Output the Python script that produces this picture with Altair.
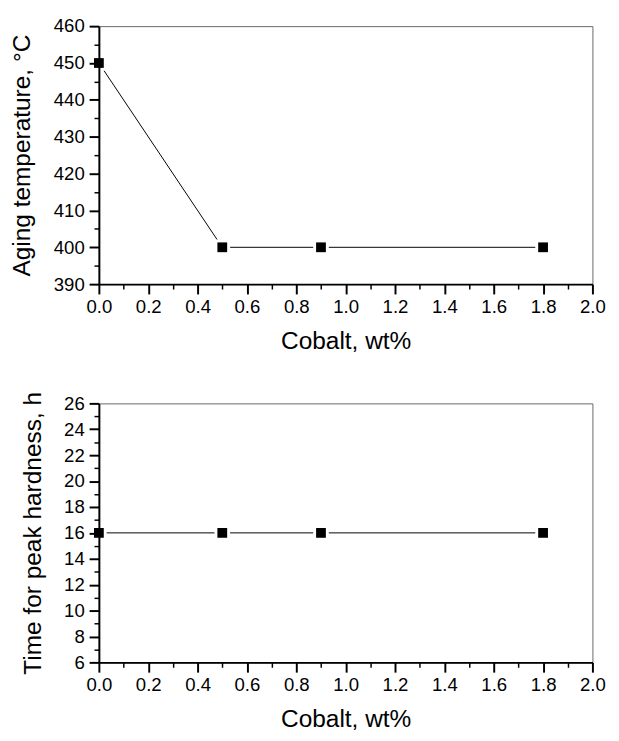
import altair as alt
import pandas as pd

cobalt = [0.0, 0.5, 0.9, 1.8]
aging_temp = [450, 400, 400, 400]
peak_time = [16, 16, 16, 16]

x_major = [0.0, 0.2, 0.4, 0.6, 0.8, 1.0, 1.2, 1.4, 1.6, 1.8, 2.0]
x_minor = [0.1, 0.3, 0.5, 0.7, 0.9, 1.1, 1.3, 1.5, 1.7, 1.9]
y1_major = [390, 400, 410, 420, 430, 440, 450, 460]
y1_minor = [395, 405, 415, 425, 435, 445, 455]
y2_major = [6, 8, 10, 12, 14, 16, 18, 20, 22, 24, 26]
y2_minor = [7, 9, 11, 13, 15, 17, 19, 21, 23, 25]

FONT = "Liberation Sans"


def panel(ycol, yvals, ydomain, ymajor, yminor, ytitle, h):
    df = pd.DataFrame({"cobalt": cobalt, ycol: yvals})
    base = alt.Chart(df)
    xs = alt.Scale(domain=[0, 2], nice=False, zero=False)
    ys = alt.Scale(domain=ydomain, nice=False, zero=False)
    x_main = alt.X("cobalt:Q", scale=xs,
                   axis=alt.Axis(values=x_major, format=".1f", title="Cobalt, wt%",
                                 orient="bottom", tickSize=10, tickWidth=2,
                                 domainWidth=2, labelPadding=4, titlePadding=13,
                                 grid=False, zindex=1, labelFlush=False,
                                 labelOverlap=False))
    y_main = alt.Y(f"{ycol}:Q", scale=ys,
                   axis=alt.Axis(values=ymajor, format="d", title=ytitle, orient="left",
                                 tickSize=10, tickWidth=2, domainWidth=2,
                                 labelPadding=5, titlePadding=19, grid=False,
                                 zindex=1, labelFlush=False, labelOverlap=False))
    line = base.mark_line(color="black", strokeWidth=1).encode(x=x_main, y=y_main)
    halo = base.mark_square(size=256, color="white", opacity=1).encode(x=x_main, y=y_main)
    pts = base.mark_square(size=100, color="black", opacity=1).encode(x=x_main, y=y_main)
    main = alt.layer(line, halo, pts)
    minor = base.mark_point(opacity=0).encode(
        x=alt.X("cobalt:Q", scale=xs,
                axis=alt.Axis(values=x_minor, labels=False, title=None, orient="bottom",
                              tickSize=5, tickWidth=1.5, domain=False, grid=False, zindex=1)),
        y=alt.Y(f"{ycol}:Q", scale=ys,
                axis=alt.Axis(values=yminor, labels=False, title=None, orient="left",
                              tickSize=5, tickWidth=1.5, domain=False, grid=False, zindex=1)),
    )
    return alt.layer(main, minor).resolve_scale(x="independent", y="independent").properties(
        width=505, height=h)


top = panel("temp", aging_temp, [390, 460], y1_major, y1_minor, "Aging temperature, °C", 264)
bottom = panel("time", peak_time, [6, 26], y2_major, y2_minor, "Time for peak hardness, h", 265)

chart = alt.vconcat(top, bottom, spacing=37).configure(
    font=FONT, background="white", padding={"top": 0, "left": 1, "right": 5, "bottom": 5}
).configure_axis(
    labelFont=FONT, titleFont=FONT, labelFontSize=19, titleFontSize=25,
    titleFontWeight="normal", labelColor="black", titleColor="black",
    domainColor="black", tickColor="black",
).configure_view(stroke="#666", strokeWidth=1)

chart.save("out.html", embed_options={"renderer": "svg", "actions": False})
